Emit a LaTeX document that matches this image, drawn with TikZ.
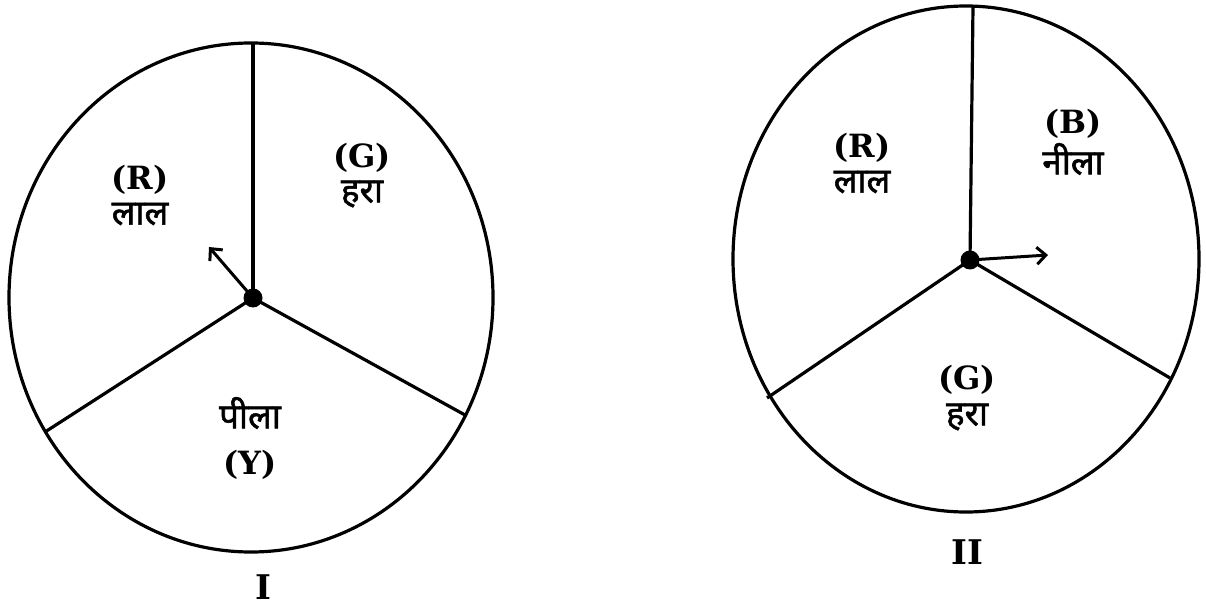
\documentclass[tikz,border=0pt]{standalone}
\usepackage{fontspec}
\setmainfont{DejaVu Serif}
\newfontfamily\dev[Script=Devanagari,FakeBold=1.6]{Noto Sans}
\usetikzlibrary{arrows.meta}
\begin{document}
\begin{tikzpicture}[x=1pt,y=-1pt,
  rim/.style={line width=3.2pt},
  spoke/.style={line width=3.2pt},
  hub/.style={circle,fill=black,inner sep=0pt,minimum size=19pt},
  pointer/.style={line width=3pt,-{Straight Barb[length=9pt,width=17pt,line width=3pt]}},
  lat/.style={font=\bfseries\fontsize{32}{36}\selectfont},
  hin/.style={font=\dev\fontsize{35}{40}\selectfont},
  disclabel/.style={inner sep=0pt,font=\bfseries\fontsize{34}{38}\selectfont}]
\useasboundingbox (0,0) rectangle (1206,609);
% Disc I
\draw[rim] (251,297.5) ellipse [x radius=242, y radius=254.5];
\node[hub] (h1) at (253,298) {};
\coordinate (t1) at (253,43);
\coordinate (l1) at (45,432);
\coordinate (r1) at (465,415);
\coordinate (p1) at (209,247);
\draw[spoke] (h1.center) -- (t1);
\draw[spoke] (h1.center) -- (l1);
\draw[spoke] (h1.center) -- (r1);
\draw[pointer] (h1.center) -- (p1);
\node[lat] (R1) at (140,180) {(R)};
\node[hin] (R1h) at (140,214) {लाल};
\node[lat] (G1) at (362,158) {(G)};
\node[hin] (G1h) at (362,194) {हरा};
\node[hin] (Y1h) at (250,413) {पीला};
\node[lat] (Y1) at (250,465) {(Y)};
\node[disclabel] (c1) at (263,587) {I};
% Disc II
\draw[rim] (966,259) ellipse [x radius=233, y radius=253];
\node[hub] (h2) at (970,260) {};
\coordinate (t2) at (973,6);
\coordinate (l2) at (767,398);
\coordinate (r2) at (1170,378);
\coordinate (p2) at (1048,255);
\draw[spoke] (h2.center) -- (t2);
\draw[spoke] (h2.center) -- (l2);
\draw[spoke] (h2.center) -- (r2);
\draw[pointer] (h2.center) -- (p2);
\node[lat] (R2) at (862,148) {(R)};
\node[hin] (R2h) at (862,182) {लाल};
\node[lat] (B2) at (1073,124) {(B)};
\node[hin] (B2h) at (1073,159) {नीला};
\node[lat] (G2) at (967,380) {(G)};
\node[hin] (G2h) at (967,417) {हरा};
\node[disclabel] (c2) at (967,552) {II};
\end{tikzpicture}
\end{document}
